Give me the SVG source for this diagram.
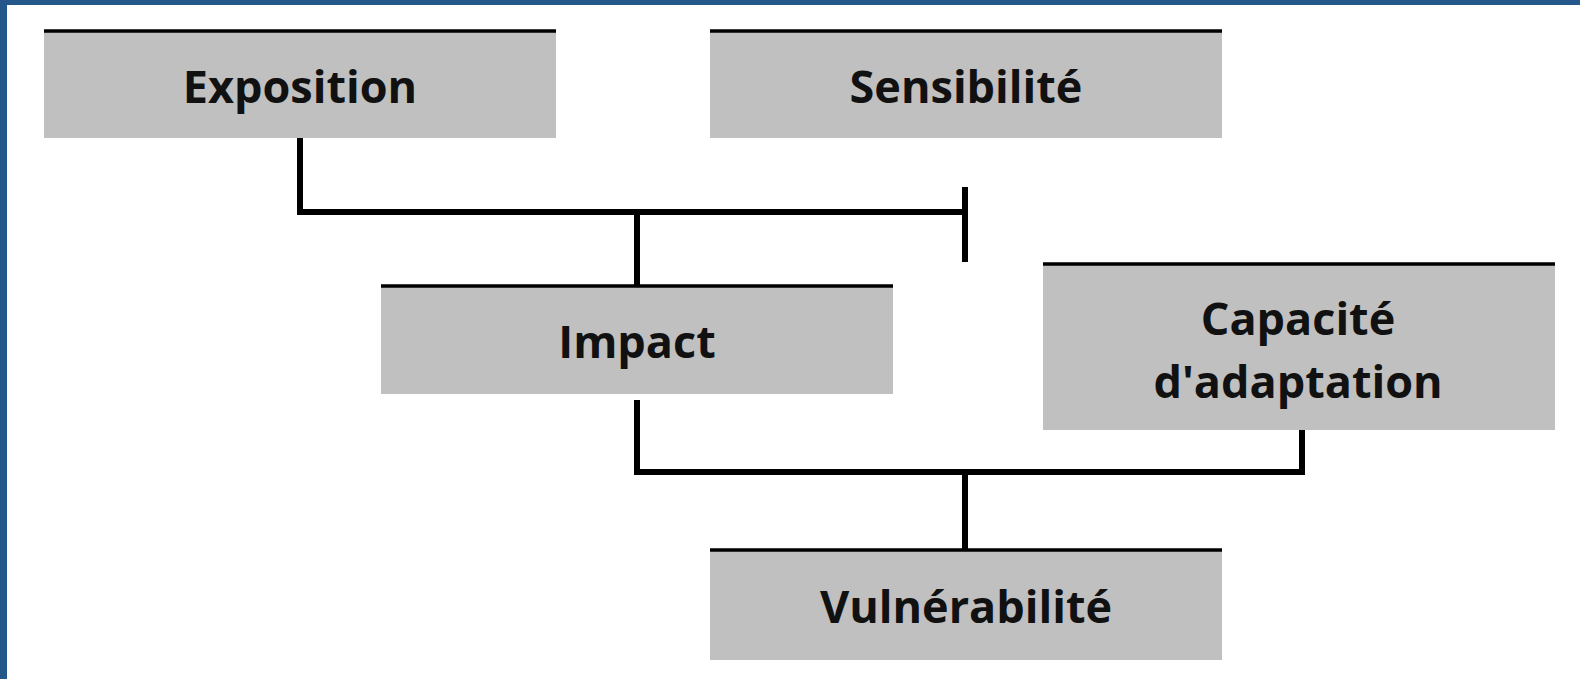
<svg xmlns="http://www.w3.org/2000/svg" width="1580" height="679" viewBox="0 0 1580 679">
  <style>
    .box { fill: #c0c0c0; }
    .topline { stroke: #000; stroke-width: 3.5; }
    .lbl { font-family: "Open Sans", "Liberation Sans", sans-serif; font-weight: bold; font-size: 45px; fill: #111; text-anchor: middle; }
    .conn { fill: none; stroke: #000; stroke-width: 6; stroke-linejoin: miter; stroke-linecap: butt; }
  </style>
  <rect x="0" y="0" width="1580" height="679" fill="#ffffff"/>
  <rect x="0" y="0" width="7" height="679" fill="#25588a"/>
  <rect x="0" y="0" width="1580" height="5" fill="#25588a"/>

  <g id="connectors">
    <path class="conn" d="M300 138 V212 H965"/>
    <path class="conn" d="M965 187 V262"/>
    <path class="conn" d="M637 212 V285"/>
    <path class="conn" d="M637 400 V472 H1302 V427"/>
    <path class="conn" d="M965 472 V549"/>
  </g>

  <g id="exposition">
    <rect class="box" x="44" y="30" width="512" height="108"/>
    <line class="topline" x1="44" y1="31" x2="556" y2="31"/>
    <text class="lbl" x="300" y="103">Exposition</text>
  </g>

  <g id="sensibilite">
    <rect class="box" x="710" y="30" width="512" height="108"/>
    <line class="topline" x1="710" y1="31" x2="1222" y2="31"/>
    <text class="lbl" x="966" y="103">Sensibilité</text>
  </g>

  <g id="impact">
    <rect class="box" x="381" y="285" width="512" height="109"/>
    <line class="topline" x1="381" y1="286" x2="893" y2="286"/>
    <text class="lbl" x="637" y="358">Impact</text>
  </g>

  <g id="capacite">
    <rect class="box" x="1043" y="263" width="512" height="167"/>
    <line class="topline" x1="1043" y1="264" x2="1555" y2="264"/>
    <text class="lbl" x="1298" y="335">Capacité</text>
    <text class="lbl" x="1298" y="398">d'adaptation</text>
  </g>

  <g id="vulnerabilite">
    <rect class="box" x="710" y="549" width="512" height="111"/>
    <line class="topline" x1="710" y1="550" x2="1222" y2="550"/>
    <text class="lbl" x="966" y="623">Vulnérabilité</text>
  </g>
</svg>
